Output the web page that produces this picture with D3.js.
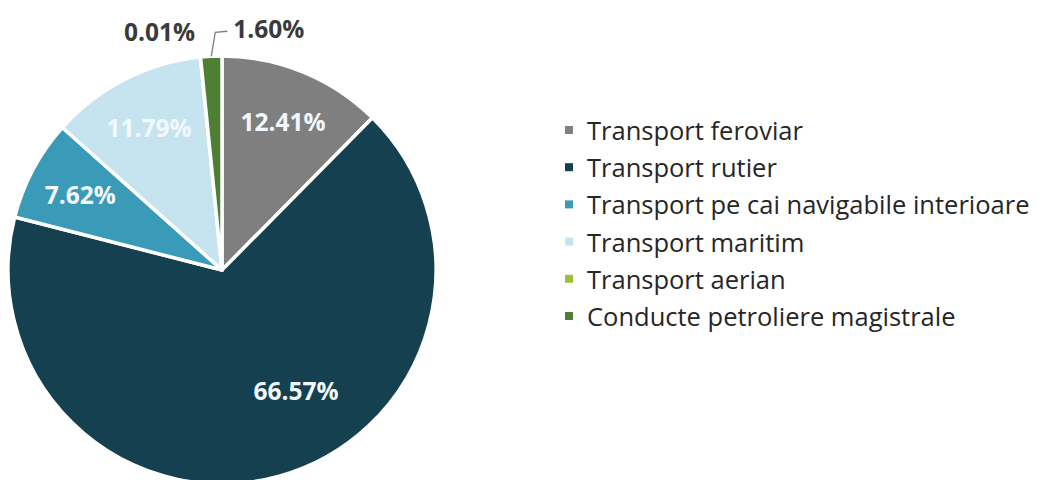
<!DOCTYPE html>
<html>
<head>
<meta charset="utf-8">
<script src="https://cdn.jsdelivr.net/npm/d3@7"></script>
<style>
  body { margin: 0; background: #fff; }
  svg { display: block; }
</style>
</head>
<body>
<div id="chart"></div>
<script>
var width = 1051,
    height = 480;

// data
var categories = ["Transport feroviar", "Transport rutier", "Transport pe cai navigabile interioare",
                  "Transport maritim", "Transport aerian", "Conducte petroliere magistrale"];
var values = [12.41, 66.57, 7.62, 11.79, 0.01, 1.60];
var colors = ["#7f7f7f", "#15404f", "#3a9bb8", "#c5e4ef", "#9cc23c", "#4e7f34"];

var cx = 222, cy = 270, radius = 214;

var svg = d3.select("#chart")
  .append("svg")
  .attr("width", width)
  .attr("height", height);

var g = svg.append("g")
  .attr("transform", "translate(" + cx + "," + cy + ")");

var pie = d3.pie().sort(null).value(function(d){ return d.value });
var arc = d3.arc().innerRadius(0).outerRadius(radius);

var data = categories.map(function(c, i){
  return { name: c, value: values[i], color: colors[i] };
});
var arcs = pie(data);

g.selectAll(".slice")
  .data(arcs)
  .enter()
  .append("path")
  .attr("class", "slice")
  .attr("d", arc)
  .attr("fill", function(d){ return d.data.color })
  .attr("stroke", "#fff")
  .attr("stroke-width", 3.5)
  .attr("stroke-linejoin", "round");

// labels: inside ones on a ring at 0.75R, small ones outside
var labelArc = d3.arc().innerRadius(radius * 0.75).outerRadius(radius * 0.75);
var outerArc = d3.arc().innerRadius(radius * 1.0).outerRadius(radius * 1.0);
var fmt = function(v){ return v.toFixed(2) + "%" };

arcs.forEach(function(d, i){
  var inside = d.data.value > 5;
  var p;
  if (inside) {
    p = labelArc.centroid(d);
    if (i === 1) {
      // large slice: Excel pulls the label toward the middle
      p = d3.arc().innerRadius(radius * 0.66).outerRadius(radius * 0.66)
        .centroid({startAngle: 2.59, endAngle: 2.59});
    }
  } else {
    p = outerArc.centroid(d);
  }
  var t = g.append("text")
    .attr("font-family", "'Open Sans', sans-serif")
    .attr("font-weight", "bold")
    .attr("font-size", 24.5)
    .attr("fill", inside ? "#f2f8fb" : "#3a3a3a")
    .attr("text-anchor", "middle")
    .attr("dominant-baseline", "central")
    .text(fmt(d.data.value));

  if (inside) {
    t.attr("x", p[0]).attr("y", p[1]);
  } else if (i === 4) {
    t.attr("x", p[0] - 41).attr("y", p[1] - 26);
  } else {
    // leader line to label
    var start = outerArc.centroid(d);
    var bend = [start[0] + 4, start[1] - 24];
    var end = [bend[0] + 12, bend[1] - 1];
    g.append("polyline")
      .attr("points", [start, bend, end].map(function(q){ return q.join(",") }).join(" "))
      .attr("fill", "none")
      .attr("stroke", "#7f7f7f")
      .attr("stroke-width", 1.3);
    t.attr("text-anchor", "start").attr("x", end[0] + 6).attr("y", end[1] - 3);
  }
});

// legend
var legend = svg.append("g")
  .attr("transform", "translate(565,130)");

var rows = legend.selectAll(".row")
  .data(data)
  .enter()
  .append("g")
  .attr("class", "row")
  .attr("transform", function(d, i){ return "translate(0," + (i * 37.2) + ")" });

rows.append("rect")
  .attr("x", 0)
  .attr("y", -4)
  .attr("width", 8)
  .attr("height", 8)
  .attr("fill", function(d){ return d.color });

rows.append("text")
  .attr("x", 22)
  .attr("y", 0)
  .attr("dominant-baseline", "central")
  .attr("font-family", "'Open Sans', sans-serif")
  .attr("font-size", 25.5)
  .attr("fill", "#262626")
  .text(function(d){ return d.name });
</script>
</body>
</html>
